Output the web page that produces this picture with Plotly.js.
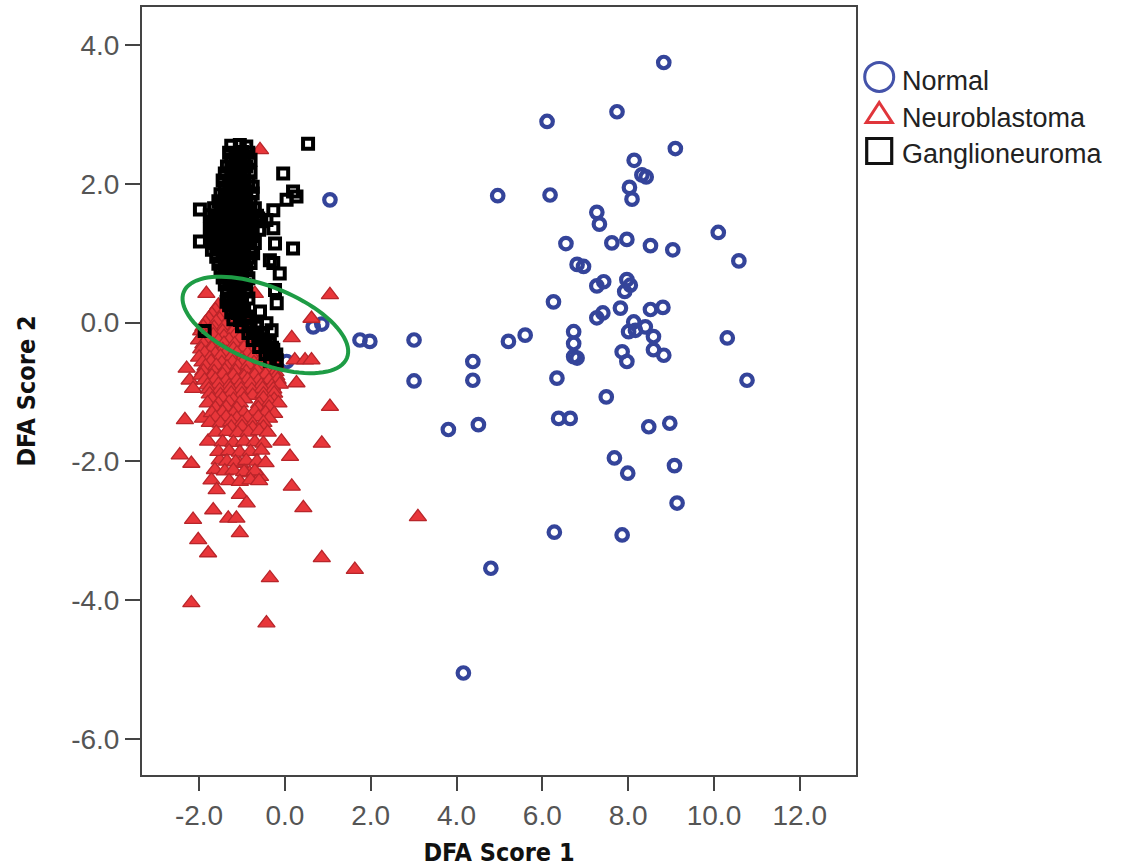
<!DOCTYPE html>
<html>
<head>
<meta charset="utf-8">
<script src="https://cdn.plot.ly/plotly-3.0.1.min.js"></script>
<style>
  html, body { margin: 0; padding: 0; background: #fff; }
  #chart { width: 1121px; height: 867px; }
</style>
</head>
<body>
<div id="chart"></div>
<script>
// DFA scores, [score 1, score 2] per sample
const normalPts = [
  [8.83,3.75],[7.74,3.04],[6.11,2.90],[9.10,2.51],[8.14,2.34],[8.32,2.13],[8.42,2.10],
  [8.03,1.95],[8.09,1.78],[4.96,1.83],[6.18,1.84],[7.27,1.59],[7.33,1.42],[10.10,1.30],
  [6.55,1.14],[7.62,1.15],[7.97,1.20],[8.52,1.11],[9.04,1.05],[10.58,0.89],[6.81,0.84],
  [6.96,0.81],[7.27,0.53],[7.43,0.59],[7.97,0.62],[8.05,0.54],[7.92,0.45],[6.26,0.30],
  [7.27,0.07],[7.41,0.14],[7.82,0.21],[8.52,0.19],[8.81,0.22],[8.13,0.01],[8.01,-0.13],
  [8.17,-0.11],[8.40,-0.06],[8.59,-0.20],[8.59,-0.39],[8.83,-0.47],[10.31,-0.22],
  [5.21,-0.27],[5.60,-0.18],[6.73,-0.13],[6.73,-0.30],[6.73,-0.49],[6.81,-0.51],
  [7.86,-0.42],[7.97,-0.56],[4.38,-0.56],[4.38,-0.83],[6.34,-0.80],[10.77,-0.83],
  [7.49,-1.07],[3.81,-1.54],[4.51,-1.47],[6.38,-1.38],[6.65,-1.38],[8.48,-1.50],
  [8.97,-1.45],[7.68,-1.95],[7.99,-2.17],[9.08,-2.06],[9.14,-2.60],[6.28,-3.02],
  [7.86,-3.06],[4.80,-3.54],[4.16,-5.05],[1.05,1.77],[0.66,-0.06],[0.86,-0.02],
  [1.75,-0.25],[1.98,-0.27],[3.01,-0.25],[3.01,-0.84],[0.04,-0.56]
];

const neuroblastomaPts = [
  // outlying cases
  [-2.29,-0.66],[-2.22,-0.83],[-2.14,-0.95],[1.05,-1.21],[-2.33,-1.40],[-1.91,-1.38],
  [0.86,-1.74],[-0.08,-1.71],[0.12,-1.93],[-2.45,-1.91],[-2.18,-2.03],[-1.79,-1.71],
  [-1.52,-1.98],[-1.63,-2.12],[-1.71,-2.27],[-1.05,-2.03],[-0.82,-2.17],[-0.58,-2.22],
  [0.16,-2.36],[-1.59,-2.41],[-1.05,-2.48],[-0.89,-2.60],[0.43,-2.67],[-1.67,-2.70],
  [-1.32,-2.82],[-1.13,-2.82],[-1.05,-3.03],[-2.14,-2.84],[-2.02,-3.13],[-1.79,-3.32],
  [0.86,-3.39],[1.63,-3.56],[-0.35,-3.68],[-2.18,-4.04],[-0.43,-4.33],[3.10,-2.80],
  [-0.58,2.49],[1.05,0.40],[-1.83,0.42],[-0.70,0.42],[0.62,0.06],[0.16,-0.22],
  [0.23,-0.54],[0.47,-0.54],[0.62,-0.54],[0.27,-0.87],
  // main cluster
  [-1.55,0.25],[-1.30,0.24],[-1.10,0.26],
  [-1.62,0.18],[-1.37,0.19],[-1.12,0.17],
  [-1.70,0.12],[-1.45,0.13],[-1.20,0.11],[-0.95,0.12],
  [-1.77,0.06],[-1.52,0.05],[-1.27,0.07],[-1.02,0.06],
  [-1.85,0.00],[-1.60,0.01],[-1.35,-0.01],[-1.10,0.00],[-0.85,0.02],
  [-1.90,-0.06],[-1.65,-0.07],[-1.40,-0.05],[-1.15,-0.06],[-0.90,-0.07],
  [-1.95,-0.12],[-1.70,-0.11],[-1.45,-0.13],[-1.20,-0.12],[-0.95,-0.10],[-0.75,-0.13],
  [-1.92,-0.19],[-1.67,-0.18],[-1.42,-0.20],[-1.17,-0.19],[-0.92,-0.18],[-0.68,-0.20],
  [-2.00,-0.25],[-1.80,-0.24],[-1.55,-0.26],[-1.30,-0.25],[-1.05,-0.23],[-0.80,-0.26],[-0.60,-0.25],
  [-1.90,-0.31],[-1.67,-0.32],[-1.42,-0.30],[-1.17,-0.31],[-0.92,-0.32],[-0.70,-0.30],[-0.52,-0.31],
  [-1.95,-0.38],[-1.70,-0.37],[-1.45,-0.39],[-1.20,-0.38],[-0.95,-0.36],[-0.70,-0.39],[-0.50,-0.38],
  [-1.87,-0.44],[-1.62,-0.45],[-1.37,-0.43],[-1.12,-0.44],[-0.87,-0.45],[-0.62,-0.43],[-0.40,-0.44],
  [-2.00,-0.50],[-1.75,-0.51],[-1.50,-0.49],[-1.25,-0.50],[-1.00,-0.52],[-0.75,-0.50],[-0.50,-0.49],[-0.30,-0.51],
  [-1.92,-0.57],[-1.72,-0.56],[-1.47,-0.58],[-1.22,-0.57],[-0.97,-0.56],[-0.72,-0.58],[-0.47,-0.57],[-0.27,-0.56],
  [-1.85,-0.63],[-1.60,-0.62],[-1.35,-0.64],[-1.10,-0.63],[-0.85,-0.61],[-0.60,-0.63],[-0.35,-0.64],[-0.20,-0.62],
  [-1.90,-0.70],[-1.65,-0.71],[-1.40,-0.69],[-1.15,-0.70],[-0.90,-0.71],[-0.65,-0.69],[-0.40,-0.70],[-0.22,-0.71],
  [-1.95,-0.76],[-1.70,-0.77],[-1.45,-0.75],[-1.20,-0.76],[-0.95,-0.78],[-0.70,-0.76],[-0.45,-0.75],[-0.20,-0.77],
  [-1.87,-0.83],[-1.62,-0.82],[-1.37,-0.84],[-1.12,-0.83],[-0.87,-0.82],[-0.62,-0.84],[-0.37,-0.83],[-0.17,-0.82],
  [-1.80,-0.90],[-1.55,-0.89],[-1.30,-0.91],[-1.05,-0.90],[-0.80,-0.88],[-0.55,-0.90],[-0.30,-0.91],[-0.12,-0.89],
  [-1.77,-0.96],[-1.52,-0.97],[-1.27,-0.95],[-1.02,-0.96],[-0.77,-0.97],[-0.52,-0.95],[-0.27,-0.96],
  [-1.75,-1.03],[-1.50,-1.04],[-1.25,-1.02],[-1.00,-1.03],[-0.75,-1.05],[-0.50,-1.03],[-0.25,-1.02],
  [-1.70,-1.10],[-1.45,-1.09],[-1.20,-1.11],[-0.95,-1.10],[-0.50,-1.09],[-0.25,-1.11],
  [-1.80,-1.16],[-1.55,-1.17],[-1.30,-1.15],[-1.05,-1.16],[-0.60,-1.17],[-0.35,-1.15],[-0.15,-1.16],
  [-1.62,-1.23],[-1.37,-1.22],[-1.12,-1.24],[-0.62,-1.23],[-0.37,-1.22],
  [-1.70,-1.30],[-1.45,-1.29],[-1.20,-1.31],[-0.95,-1.30],[-0.70,-1.28],[-0.45,-1.30],[-0.25,-1.31],
  [-1.62,-1.37],[-1.37,-1.36],[-1.12,-1.38],[-0.87,-1.37],[-0.62,-1.36],[-0.37,-1.38],
  [-1.75,-1.44],[-1.50,-1.45],[-1.25,-1.43],[-1.00,-1.44],[-0.75,-1.46],[-0.50,-1.44],
  [-1.25,-1.51],[-1.00,-1.50],[-0.75,-1.52],[-0.50,-1.51],
  [-1.60,-1.58],[-1.35,-1.57],[-1.10,-1.59],[-0.85,-1.58],[-0.60,-1.56],[-0.40,-1.58],
  [-1.45,-1.72],[-1.20,-1.73],[-0.95,-1.71],[-0.70,-1.72],[-0.50,-1.74],
  [-1.55,-1.86],[-1.30,-1.85],[-1.05,-1.87],[-0.80,-1.86],[-0.55,-1.84],
  [-1.35,-2.00],[-1.15,-2.01],[-0.90,-1.99],[-0.65,-2.00],[-0.45,-2.02],
  [-1.40,-2.14],[-1.20,-2.13],[-0.95,-2.15],[-0.70,-2.14],
  [-1.30,-2.28],[-1.05,-2.29],[-0.80,-2.27],[-0.60,-2.28]
];

const ganglioneuromaPts = [
  // main cluster
  [-1.25,2.55],[-1.05,2.56],[-0.90,2.54],
  [-1.30,2.45],[-1.15,2.44],[-1.00,2.46],[-0.85,2.45],
  [-1.25,2.35],[-1.10,2.36],[-0.95,2.34],[-0.80,2.35],
  [-1.35,2.25],[-1.20,2.24],[-1.05,2.26],[-0.90,2.25],
  [-1.40,2.15],[-1.25,2.16],[-1.10,2.14],[-0.95,2.15],[-0.80,2.16],
  [-1.45,2.05],[-1.30,2.04],[-1.15,2.06],[-1.00,2.05],[-0.85,2.04],
  [-1.40,1.95],[-1.25,1.96],[-1.10,1.94],[-0.95,1.95],[-0.75,1.96],
  [-1.50,1.85],[-1.35,1.84],[-1.20,1.86],[-1.05,1.85],[-0.90,1.84],[-0.75,1.86],
  [-1.55,1.75],[-1.40,1.76],[-1.25,1.74],[-1.10,1.75],[-0.95,1.76],[-0.80,1.74],
  [-1.65,1.65],[-1.50,1.66],[-1.35,1.64],[-1.20,1.65],[-1.05,1.66],[-0.90,1.64],[-0.70,1.65],
  [-1.75,1.55],[-1.60,1.54],[-1.45,1.56],[-1.30,1.55],[-1.15,1.54],[-1.00,1.56],[-0.85,1.55],[-0.65,1.54],
  [-1.70,1.45],[-1.55,1.46],[-1.40,1.44],[-1.25,1.45],[-1.10,1.46],[-0.95,1.44],[-0.75,1.45],[-0.55,1.46],
  [-1.75,1.35],[-1.60,1.34],[-1.45,1.36],[-1.30,1.35],[-1.15,1.34],[-1.00,1.36],[-0.85,1.35],[-0.60,1.34],
  [-1.70,1.25],[-1.55,1.26],[-1.40,1.24],[-1.25,1.25],[-1.10,1.26],[-0.95,1.24],[-0.75,1.25],
  [-1.65,1.15],[-1.50,1.14],[-1.35,1.16],[-1.20,1.15],[-1.05,1.14],[-0.90,1.16],[-0.70,1.15],
  [-1.70,1.05],[-1.55,1.06],[-1.40,1.04],[-1.25,1.05],[-1.10,1.06],[-0.95,1.04],[-0.80,1.05],
  [-1.60,0.95],[-1.45,0.96],[-1.30,0.94],[-1.15,0.95],[-1.00,0.96],[-0.85,0.94],
  [-1.55,0.85],[-1.40,0.84],[-1.25,0.86],[-1.10,0.85],[-0.95,0.84],[-0.80,0.86],
  [-1.50,0.75],[-1.35,0.76],[-1.20,0.74],[-1.05,0.75],[-0.90,0.76],
  [-1.45,0.65],[-1.30,0.64],[-1.15,0.66],[-1.00,0.65],[-0.85,0.64],
  [-1.40,0.55],[-1.25,0.56],[-1.10,0.54],[-0.95,0.55],
  [-1.35,0.45],[-1.20,0.44],[-1.05,0.46],[-0.90,0.45],
  [-1.30,0.35],[-1.15,0.36],[-1.00,0.34],[-0.85,0.35],
  [-1.30,0.25],[-1.15,0.24],[-1.00,0.26],
  [-1.25,0.15],[-1.10,0.14],[-0.95,0.16],
  [-1.20,0.05],[-1.05,0.04],[-0.85,0.06],
  [-1.00,-0.05],[-0.80,-0.04],[-0.65,-0.06],
  [-0.85,-0.15],[-0.70,-0.14],[-0.55,-0.16],
  [-0.75,-0.25],[-0.60,-0.24],[-0.45,-0.26],
  [-0.60,-0.35],[-0.45,-0.34],[-0.30,-0.36],
  [-0.45,-0.45],[-0.30,-0.44],[-0.20,-0.46],
  [-0.35,-0.55],[-0.20,-0.56],
  // outlying cases
  [0.54,2.58],[-0.04,2.15],[0.19,1.89],[0.27,1.82],[0.04,1.77],[-0.27,1.62],[-1.98,1.63],
  [-0.62,1.50],[-0.43,1.48],[-0.27,1.36],[0.19,1.07],[-0.23,1.14],[-1.98,1.17],[-0.74,1.00],
  [-0.35,0.90],[-0.27,0.86],[-0.12,0.71],[-0.23,0.47],[-0.19,0.28],[-1.87,-0.12],[-0.58,0.16],
  [-1.36,0.30],[-0.89,0.09],[-0.66,-0.01],[-0.43,-0.01],[-0.51,-0.15],[-0.31,-0.11],
  [-0.62,-0.25],[-0.35,-0.30],[-0.27,-0.39],[-0.19,-0.54]
];

const groupNames = ['Normal', 'Neuroblastoma', 'Ganglioneuroma'];

const xTickVals = [-2, 0, 2, 4, 6, 8, 10, 12];
const xTickText = ['-2.0', '0.0', '2.0', '4.0', '6.0', '8.0', '10.0', '12.0'];
const yTickVals = [-6, -4, -2, 0, 2, 4];
const yTickText = ['-6.0', '-4.0', '-2.0', '0.0', '2.0', '4.0'];

const xs = pts => pts.map(p => p[0]);
const ys = pts => pts.map(p => p[1]);

const tickFont = { family: 'Liberation Sans, Arial, sans-serif', size: 28, color: '#555555' };
const titleFont = { family: 'DejaVu Sans Condensed, Liberation Sans Narrow, Arial Narrow, sans-serif', size: 25, color: '#111111', weight: 'bold' };

const traces = [
  {
    type: 'scatter', mode: 'markers', name: groupNames[0],
    x: xs(normalPts), y: ys(normalPts),
    marker: { symbol: 'circle-open', size: 11.5, color: '#34449a', line: { width: 4.2, color: '#34449a' } },
    hoverinfo: 'x+y+name'
  },
  {
    type: 'scatter', mode: 'markers', name: groupNames[1],
    x: xs(neuroblastomaPts), y: ys(neuroblastomaPts),
    marker: { symbol: 'triangle-up', size: 15, color: '#e8363a', line: { width: 1.3, color: '#b8252a' } },
    hoverinfo: 'x+y+name'
  },
  {
    type: 'scatter', mode: 'markers', name: groupNames[2],
    x: xs(ganglioneuromaPts), y: ys(ganglioneuromaPts),
    marker: { symbol: 'square-open', size: 10, color: '#000000', line: { width: 4, color: '#000000' } },
    hoverinfo: 'x+y+name'
  }
];

// outline of a rotated ellipse, in pixel offsets around its anchor (y up)
function ellipsePath(a, b, deg, n) {
  const t = deg * Math.PI / 180;
  let d = '';
  for (let i = 0; i <= n; i++) {
    const u = 2 * Math.PI * i / n;
    const px = a * Math.cos(u) * Math.cos(t) - b * Math.sin(u) * Math.sin(t);
    const py = a * Math.cos(u) * Math.sin(t) + b * Math.sin(u) * Math.cos(t);
    d += (i ? 'L' : 'M') + px.toFixed(2) + ',' + py.toFixed(2);
  }
  return d + 'Z';
}

// legend rows (paper coordinates)
const legX = 1.0325, legTextX = 1.061;
const legRows = [0.909, 0.862, 0.8125];
const legTextRows = [0.904, 0.855, 0.809];

const shapes = [
  {
    type: 'path', xref: 'x', yref: 'y', xsizemode: 'pixel', ysizemode: 'pixel',
    xanchor: -0.455, yanchor: -0.033, path: ellipsePath(88, 38, -22, 90),
    line: { color: '#1e9c45', width: 4 }, fillcolor: 'rgba(0,0,0,0)', layer: 'above'
  },
  {
    type: 'circle', xref: 'paper', yref: 'paper', xsizemode: 'pixel', ysizemode: 'pixel',
    xanchor: legX, yanchor: legRows[0], x0: -14.5, x1: 14.5, y0: -14.5, y1: 14.5,
    line: { color: '#4453aa', width: 3 }, fillcolor: 'rgba(0,0,0,0)'
  },
  {
    type: 'path', xref: 'paper', yref: 'paper', xsizemode: 'pixel', ysizemode: 'pixel',
    xanchor: legX, yanchor: legRows[1], path: 'M-13,-9.5L13,-9.5L0,10.5Z',
    line: { color: '#e0353b', width: 3 }, fillcolor: 'rgba(0,0,0,0)'
  },
  {
    type: 'rect', xref: 'paper', yref: 'paper', xsizemode: 'pixel', ysizemode: 'pixel',
    xanchor: legX, yanchor: legRows[2], x0: -12.5, x1: 12.5, y0: -12.5, y1: 12.5,
    line: { color: '#111111', width: 3.2 }, fillcolor: 'rgba(0,0,0,0)'
  }
];

const annotations = groupNames.map((name, i) => ({
  xref: 'paper', yref: 'paper', x: legTextX, y: legTextRows[i],
  xanchor: 'left', yanchor: 'middle', showarrow: false, text: name,
  font: { family: 'Liberation Sans, Arial, sans-serif', size: 27, color: '#222222' }
}));

const layout = {
  width: 1121, height: 867,
  margin: { l: 142, r: 265, t: 7, b: 92, pad: 0 },
  paper_bgcolor: '#ffffff', plot_bgcolor: '#ffffff',
  showlegend: false,
  xaxis: {
    range: [-3.33, 13.31], tickmode: 'array', tickvals: xTickVals, ticktext: xTickText,
    ticks: 'outside', ticklen: 14, tickwidth: 2, tickcolor: '#444444',
    showline: true, mirror: true, linecolor: '#444444', linewidth: 2,
    showgrid: false, zeroline: false, automargin: false,
    tickfont: tickFont,
    title: { text: 'DFA Score 1', font: titleFont, standoff: 14 }
  },
  yaxis: {
    range: [-6.52, 4.55], tickmode: 'array', tickvals: yTickVals, ticktext: yTickText,
    ticks: 'outside', ticklen: 15, tickwidth: 2, tickcolor: '#444444',
    showline: true, mirror: true, linecolor: '#444444', linewidth: 2,
    showgrid: false, zeroline: false, automargin: false,
    tickfont: tickFont,
    title: { text: 'DFA Score 2', font: titleFont, standoff: 28 }
  },
  shapes: shapes,
  annotations: annotations
};

Plotly.newPlot('chart', traces, layout, { displayModeBar: false, staticPlot: true });
</script>
</body>
</html>
